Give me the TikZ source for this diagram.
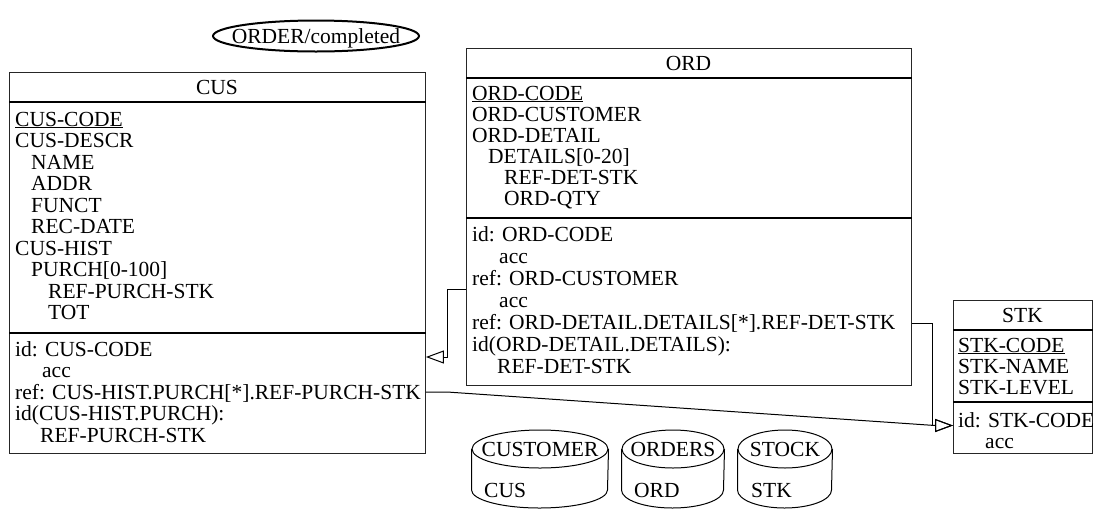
\documentclass[tikz,border=0pt]{standalone}
\usepackage{fontspec}
\setmainfont{Liberation Serif}
\usetikzlibrary{arrows.meta,shapes.geometric}
\newcommand\rowfont{\fontsize{21.5}{23}\selectfont}
\newcommand\rowat[4]{\node[rowtxt] (#1) at (#2,#3) {#4};}
\tikzset{
  rowtxt/.style={anchor=base west,inner sep=0pt,font=\rowfont},
  titletxt/.style={anchor=base,inner sep=0pt,font=\rowfont},
  ebox/.style={draw=black!85,line width=0.9pt,anchor=north west,inner sep=0pt},
  sepline/.style={line width=1.8pt},
  fk/.style={line width=1pt,-{Triangle[open,length=18pt,width=13pt]}},
  dbtop/.style={ellipse,draw,line width=1pt,inner sep=0pt},
  dbline/.style={line width=1pt},
}
\begin{document}
\begin{tikzpicture}[x=1pt,y=-1pt]
\useasboundingbox (0,0) rectangle (1095,515);

% ---------- ORDER/completed ----------
\node[ellipse,draw,line width=2pt,minimum width=206pt,minimum height=31pt,inner sep=0pt] (schema) at (316,36) {};
\node[titletxt] (schemat) at (316,43.5) {ORDER/completed};

% ---------- CUS ----------
\node[ebox,minimum width=416pt,minimum height=381pt] (cus) at (9,72) {};
\draw[sepline] (cus.west |- 0,102) -- (cus.east |- 0,102);
\draw[sepline] (cus.west |- 0,333) -- (cus.east |- 0,333);
\node[titletxt] (cust) at (217,94) {CUS};
\rowat{cusa0}{15}{126}{\underline{CUS-CODE}}
\rowat{cusa1}{15}{147.5}{CUS-DESCR}
\rowat{cusa2}{31}{169}{NAME}
\rowat{cusa3}{31}{190.5}{ADDR}
\rowat{cusa4}{31}{212}{FUNCT}
\rowat{cusa5}{31}{233.5}{REC-DATE}
\rowat{cusa6}{15}{255}{CUS-HIST}
\rowat{cusa7}{31}{276.5}{PURCH[0-100]}
\rowat{cusa8}{48}{298}{REF-PURCH-STK}
\rowat{cusa9}{48}{319.5}{TOT}
\rowat{cusb0}{15}{356}{id: CUS-CODE}
\rowat{cusb1}{42}{377.5}{acc}
\rowat{cusb2}{15}{399}{ref: CUS-HIST.PURCH[*].REF-PURCH-STK}
\rowat{cusb3}{15}{420.5}{id(CUS-HIST.PURCH):}
\rowat{cusb4}{40}{442}{REF-PURCH-STK}

% ---------- ORD ----------
\node[ebox,minimum width=445pt,minimum height=337pt] (ord) at (466,48) {};
\draw[sepline] (ord.west |- 0,78) -- (ord.east |- 0,78);
\draw[sepline] (ord.west |- 0,218) -- (ord.east |- 0,218);
\node[titletxt] (ordt) at (688.5,70) {ORD};
\rowat{orda0}{472}{100}{\underline{ORD-CODE}}
\rowat{orda1}{472}{121}{ORD-CUSTOMER}
\rowat{orda2}{472}{142}{ORD-DETAIL}
\rowat{orda3}{488}{163}{DETAILS[0-20]}
\rowat{orda4}{504}{184}{REF-DET-STK}
\rowat{orda5}{504}{205}{ORD-QTY}
\rowat{ordb0}{472}{241}{id: ORD-CODE}
\rowat{ordb1}{499}{263}{acc}
\rowat{ordb2}{472}{285}{ref: ORD-CUSTOMER}
\rowat{ordb3}{499}{307}{acc}
\rowat{ordb4}{472}{329}{ref: ORD-DETAIL.DETAILS[*].REF-DET-STK}
\rowat{ordb5}{472}{351}{id(ORD-DETAIL.DETAILS):}
\rowat{ordb6}{497}{373}{REF-DET-STK}

% ---------- STK ----------
\node[ebox,minimum width=139pt,minimum height=153pt] (stk) at (953,300) {};
\draw[sepline] (stk.west |- 0,330) -- (stk.east |- 0,330);
\draw[sepline] (stk.west |- 0,402) -- (stk.east |- 0,402);
\node[titletxt] (stkt) at (1022.5,322) {STK};
\rowat{stka0}{958}{352}{\underline{STK-CODE}}
\rowat{stka1}{958}{373}{STK-NAME}
\rowat{stka2}{958}{394}{STK-LEVEL}
\rowat{stkb0}{958}{427}{id: STK-CODE}
\rowat{stkb1}{985}{448}{acc}

% ---------- connectors ----------
\draw[fk] (ord.west |- 0,289) -- (447,289) -- (447,357) -- (cus.east |- 0,357);
\draw[fk] (cus.east |- 0,392) -- (447,392) -- (935,425.5) -- (stk.west |- 0,425.5);
\draw[fk] (ord.east |- 0,323) -- (932,323) -- (932,425.5) -- (stk.west |- 0,425.5);

% ---------- files (cylinders) ----------
\node[dbtop,minimum width=136pt,minimum height=38pt] (fcus) at (540,449) {};
\draw[dbline] (fcus.west) -- ++(0,41) arc[start angle=180,end angle=360,x radius=68pt,y radius=18pt] -- (fcus.east);
\node[titletxt] (fcust) at (540,456.5) {CUSTOMER};
\rowat{fcusr}{484}{497}{CUS}

\node[dbtop,minimum width=102pt,minimum height=38pt] (ford) at (673,449) {};
\draw[dbline] (ford.west) -- ++(0,41) arc[start angle=180,end angle=360,x radius=51pt,y radius=18pt] -- (ford.east);
\node[titletxt] (fordt) at (673,456.5) {ORDERS};
\rowat{fordr}{634}{497}{ORD}

\node[dbtop,minimum width=94pt,minimum height=38pt] (fstk) at (785,449) {};
\draw[dbline] (fstk.west) -- ++(0,41) arc[start angle=180,end angle=360,x radius=47pt,y radius=18pt] -- (fstk.east);
\node[titletxt] (fstkt) at (785,456.5) {STOCK};
\rowat{fstkr}{751}{497}{STK}
\end{tikzpicture}
\end{document}
